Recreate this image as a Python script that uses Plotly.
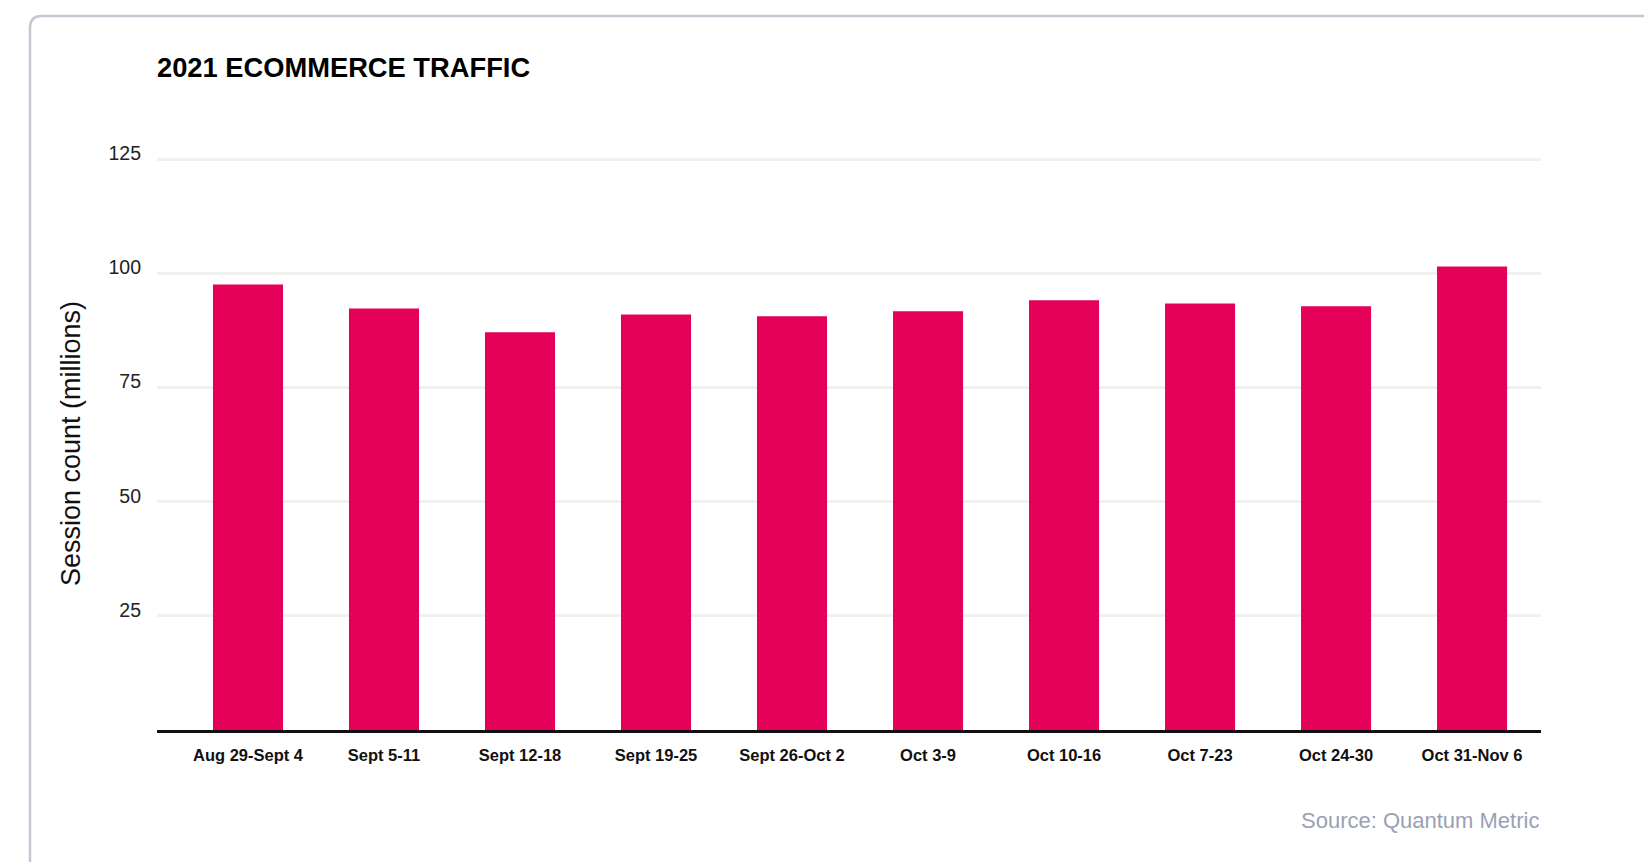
import plotly.graph_objects as go

# Weekly ecommerce sessions, 2021 (millions)
weeks = [
    "Aug 29-Sept 4", "Sept 5-11", "Sept 12-18", "Sept 19-25", "Sept 26-Oct 2",
    "Oct 3-9", "Oct 10-16", "Oct 7-23", "Oct 24-30", "Oct 31-Nov 6",
]
sessions = [97.6, 92.3, 87.1, 91.0, 90.6, 91.7, 94.1, 93.4, 92.8, 101.5]
y_ticks = [25, 50, 75, 100, 125]

W, H = 1644, 862
M_L, M_R, M_T, M_B = 157, 103, 157, 132
PLOT_W = W - M_L - M_R
PLOT_H = H - M_T - M_B

BAR = "#e5005a"
FONT = "Liberation Sans, Arial, Helvetica, sans-serif"

fig = go.Figure(
    go.Bar(
        x=list(range(len(weeks))),
        y=sessions,
        width=0.515,
        marker=dict(color=BAR, line=dict(width=0)),
        hovertemplate="%{customdata}: %{y}M<extra></extra>",
        customdata=weeks,
    )
)


def px_x(px):
    return (px - M_L) / PLOT_W


def px_y(py):
    return (H - M_B - py) / PLOT_H


# Card outline with a rounded top-left corner, running off the right and bottom edges
cx0, cy0 = px_x(30), px_y(16)
cx1, cy1 = px_x(1720), px_y(920)
rx, ry = 12 / PLOT_W, 12 / PLOT_H
card_path = (
    f"M {cx0},{cy1} L {cx0},{cy0 - ry} Q {cx0},{cy0} {cx0 + rx},{cy0} L {cx1},{cy0}"
)

fig.update_layout(
    width=W,
    height=H,
    margin=dict(l=M_L, r=M_R, t=M_T, b=M_B, pad=0),
    paper_bgcolor="white",
    plot_bgcolor="white",
    font=dict(family=FONT, color="#111111"),
    showlegend=False,
    title=dict(
        text="<b>2021 ECOMMERCE TRAFFIC</b>",
        font=dict(family=FONT, size=27.3, color="#000000"),
        x=M_L / W,
        xanchor="left",
        xref="container",
        y=1 - 67 / H,
        yanchor="middle",
        yref="container",
    ),
    xaxis=dict(
        tickmode="array",
        tickvals=list(range(len(weeks))),
        ticktext=weeks,
        range=[-0.669, 9.507],
        showgrid=False,
        zeroline=False,
        showline=True,
        linecolor="#111111",
        linewidth=2.5,
        ticks="",
        ticklabelstandoff=8,
        tickfont=dict(family=FONT, size=16.5, color="#111111", weight="bold"),
        fixedrange=True,
    ),
    yaxis=dict(
        range=[0, 125.5],
        tickmode="array",
        tickvals=y_ticks,
        showgrid=True,
        gridcolor="#f1f1f1",
        gridwidth=2.5,
        zeroline=False,
        showline=False,
        ticks="",
        ticklabelstandoff=15,
        ticklabelshift=-6,
        tickfont=dict(family=FONT, size=19.5, color="#222222"),
        title=dict(
            text="Session count (millions)",
            font=dict(family=FONT, size=27, color="#111111"),
            standoff=20,
        ),
        fixedrange=True,
    ),
    shapes=[
        dict(
            type="path",
            xref="paper",
            yref="paper",
            path=card_path,
            line=dict(color="#c5c8d2", width=2.5),
            layer="below",
        )
    ],
    annotations=[
        dict(
            text="Source: Quantum Metric",
            xref="paper",
            yref="paper",
            x=1,
            y=px_y(820),
            xanchor="right",
            yanchor="middle",
            showarrow=False,
            font=dict(family=FONT, size=22, color="#9aa1b3"),
        )
    ],
)

fig.write_html("out.html", config={"displayModeBar": False})
